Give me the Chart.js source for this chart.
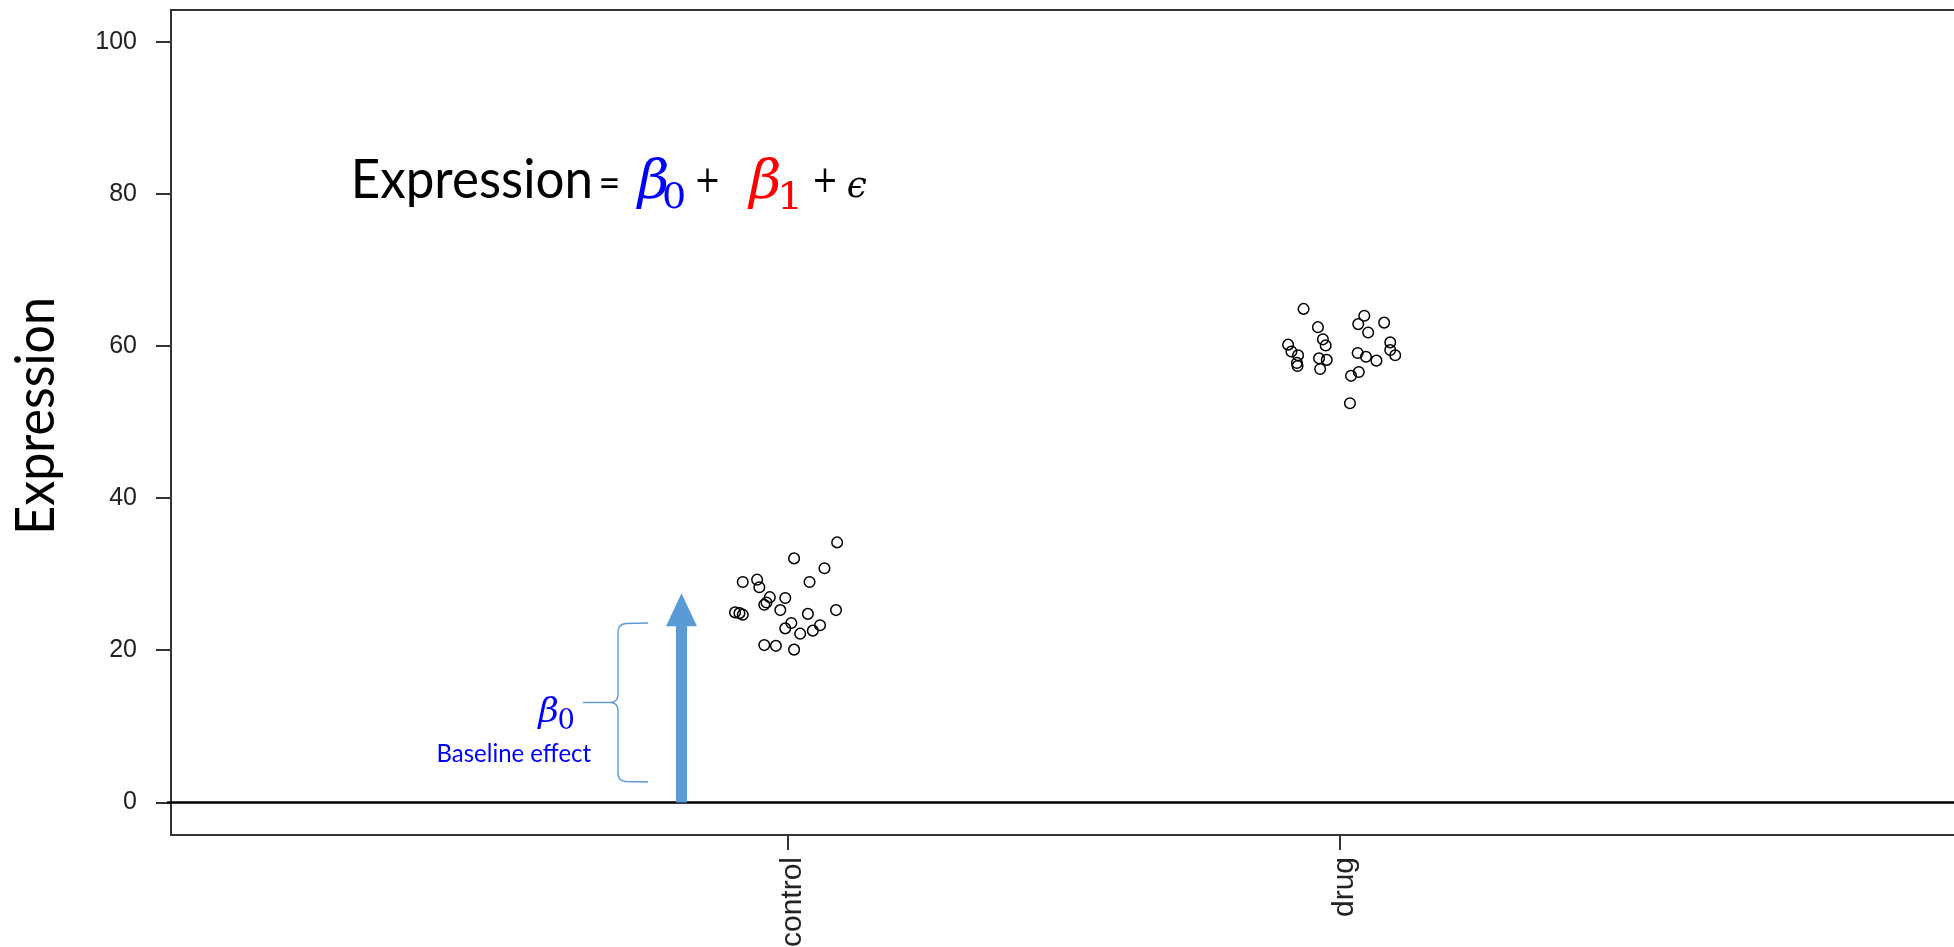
<!DOCTYPE html>
<html>
<head>
<meta charset="utf-8">
<title>Expression by group</title>
<script src="https://cdn.jsdelivr.net/npm/chart.js@4.4.1/dist/chart.umd.min.js"></script>
<style>
  html, body { margin: 0; padding: 0; background: #ffffff; overflow: hidden; }
  canvas { display: block; }
</style>
</head>
<body>
<canvas id="chart" width="1954" height="947"></canvas>
<script>
// Groups on the x axis (positions 1 and 2) and the y-axis ticks
const categories = ['control', 'drug'];
const yTicks = [0, 20, 40, 60, 80, 100];

// Jittered observations: x is the group position plus jitter, y is expression
const controlX = [1.089, 1.011, 1.066, 0.918, 0.944, 0.948, 1.039, 0.967, 0.995, 0.961, 0.957, 0.986, 1.087,
                  0.904, 0.912, 0.918, 1.036, 1.006, 0.995, 1.058, 1.045, 1.022, 0.957, 0.978, 1.011];
const controlY = [34.2, 32.1, 30.8, 29.0, 29.3, 28.3, 29.0, 27.0, 26.9, 26.3, 26.0, 25.3, 25.3,
                  25.0, 24.9, 24.7, 24.8, 23.6, 22.9, 23.3, 22.6, 22.2, 20.7, 20.6, 20.1];
const drugX = [1.934, 2.044, 2.033, 2.080, 1.960, 2.051, 1.969, 1.974, 1.906, 2.091, 1.912, 1.924, 2.032,
               2.091, 2.100, 2.047, 2.066, 1.962, 1.976, 1.922, 1.923, 1.964, 2.034, 2.020, 2.018];
const drugY = [64.9, 64.0, 62.9, 63.1, 62.5, 61.8, 60.9, 60.1, 60.2, 60.5, 59.3, 58.8, 59.1,
               59.5, 58.8, 58.6, 58.1, 58.4, 58.2, 57.8, 57.4, 57.0, 56.6, 56.1, 52.5];

// Baseline arrow: drawn at this x (axis units) from 0 up to the tip value
const baselineArrowX = 0.807;
const baselineArrowTip = 27.5;
// Brace span (expression units) beside the arrow
const braceTop = 23.6;
const braceBottom = 2.7;

const toPoints = (xs, ys) => xs.map((x, i) => ({ x: x, y: ys[i] }));

const AXIS_COLOR = '#333333';
const ARROW_BLUE = '#5B9BD5';

// Draws text so that its ink box fills the rectangle (x0,y0)-(x1,y1)
function drawInk(ctx, text, font, color, x0, y0, x1, y1) {
  ctx.save();
  ctx.font = font;
  ctx.textAlign = 'left';
  ctx.textBaseline = 'alphabetic';
  const m = ctx.measureText(text);
  const w = m.actualBoundingBoxLeft + m.actualBoundingBoxRight;
  const h = m.actualBoundingBoxAscent + m.actualBoundingBoxDescent;
  ctx.translate(x0, y0);
  ctx.scale((x1 - x0) / w, (y1 - y0) / h);
  ctx.fillStyle = color;
  ctx.fillText(text, m.actualBoundingBoxLeft, m.actualBoundingBoxAscent);
  ctx.restore();
}

// Same, for text running bottom-to-top; ink spans x0..x1 across and yBottom..yTop along
function drawInkUp(ctx, text, font, color, x0, x1, yBottom, yTop) {
  ctx.save();
  ctx.font = font;
  ctx.textAlign = 'left';
  ctx.textBaseline = 'alphabetic';
  const m = ctx.measureText(text);
  const w = m.actualBoundingBoxLeft + m.actualBoundingBoxRight;
  const h = m.actualBoundingBoxAscent + m.actualBoundingBoxDescent;
  ctx.translate(x0, yBottom);
  ctx.rotate(-Math.PI / 2);
  ctx.scale((yBottom - yTop) / w, (x1 - x0) / h);
  ctx.fillStyle = color;
  ctx.fillText(text, m.actualBoundingBoxLeft, m.actualBoundingBoxAscent);
  ctx.restore();
}

// Keep the plot box at fixed edges: no extra room reserved for edge labels
function fixScale(scale, size) {
  if (scale.isHorizontal()) scale.height = size; else scale.width = size;
  scale.paddingTop = 0;
  scale.paddingBottom = 0;
  scale.paddingLeft = 0;
  scale.paddingRight = 0;
}

const decorations = {
  id: 'decorations',
  beforeDatasetsDraw(chart) {
    const { ctx, chartArea, scales } = chart;
    const xs = scales.x, ys = scales.y;
    ctx.save();

    // top edge of the plot box
    ctx.strokeStyle = AXIS_COLOR;
    ctx.lineWidth = 2;
    ctx.beginPath();
    ctx.moveTo(chartArea.left - 1, chartArea.top);
    ctx.lineTo(chartArea.right, chartArea.top);
    ctx.stroke();

    // horizontal reference line at zero
    const y0 = ys.getPixelForValue(0);
    ctx.strokeStyle = '#000000';
    ctx.lineWidth = 2.6;
    ctx.beginPath();
    ctx.moveTo(chartArea.left - 4, y0);
    ctx.lineTo(chartArea.right, y0);
    ctx.stroke();

    // baseline arrow
    const ax = xs.getPixelForValue(baselineArrowX);
    const tip = ys.getPixelForValue(baselineArrowTip);
    const headLen = 33, headHalf = 15.5, shaftHalf = 5.5;
    ctx.fillStyle = ARROW_BLUE;
    ctx.beginPath();
    ctx.moveTo(ax - shaftHalf, y0);
    ctx.lineTo(ax - shaftHalf, tip + headLen);
    ctx.lineTo(ax - headHalf, tip + headLen);
    ctx.lineTo(ax, tip);
    ctx.lineTo(ax + headHalf, tip + headLen);
    ctx.lineTo(ax + shaftHalf, tip + headLen);
    ctx.lineTo(ax + shaftHalf, y0);
    ctx.closePath();
    ctx.fill();

    // curly brace left of the arrow
    const bt = ys.getPixelForValue(braceTop);
    const bb = ys.getPixelForValue(braceBottom);
    const bm = (bt + bb) / 2;
    const spine = ax - 63.5, ends = ax - 33.5, cusp = ax - 70, lead = ax - 98.5;
    ctx.strokeStyle = ARROW_BLUE;
    ctx.lineWidth = 1.4;
    ctx.beginPath();
    ctx.moveTo(ends, bt);
    ctx.lineTo(spine + 8, bt + 0.5);
    ctx.quadraticCurveTo(spine, bt + 1, spine, bt + 9);
    ctx.lineTo(spine, bm - 8);
    ctx.quadraticCurveTo(spine, bm - 1, cusp, bm);
    ctx.quadraticCurveTo(spine, bm + 1, spine, bm + 8);
    ctx.lineTo(spine, bb - 9);
    ctx.quadraticCurveTo(spine, bb - 1, spine + 8, bb - 0.5);
    ctx.lineTo(ends, bb);
    ctx.stroke();
    ctx.beginPath();
    ctx.moveTo(lead, bm);
    ctx.lineTo(cusp, bm);
    ctx.stroke();

    ctx.restore();
  },
  afterDraw(chart) {
    const ctx = chart.ctx;
    const sans = 'Lato, "Open Sans", sans-serif';
    const serif = '"DejaVu Serif", "Liberation Serif", serif';

    // y-axis title
    drawInkUp(ctx, 'Expression', '60px ' + sans, '#000000', 14, 63, 530.5, 300);

    // model equation
    drawInk(ctx, 'Expression', '60px ' + sans, '#000000', 355, 158, 590, 207);
    drawInk(ctx, '=', '60px ' + sans, '#000000', 601, 178, 618, 188);
    drawInk(ctx, '\u03B2', 'italic 60px ' + serif, '#0000FF', 636, 156, 668, 209);
    drawInk(ctx, '0', '40px ' + serif, '#0000FF', 664, 182, 684, 209);
    drawInk(ctx, '+', '60px ' + serif, '#000000', 697.5, 170, 717.5, 193);
    drawInk(ctx, '\u03B2', 'italic 60px ' + serif, '#FF0000', 747.5, 156, 780, 209);
    drawInk(ctx, '1', '40px ' + serif, '#FF0000', 781, 182, 797.5, 209);
    drawInk(ctx, '+', '60px ' + serif, '#000000', 815, 170, 835, 193);
    drawInk(ctx, '\u03F5', 'italic 60px ' + serif, '#000000', 848, 177.5, 866.5, 197.5);

    // brace label
    drawInk(ctx, '\u03B2', 'italic 40px ' + serif, '#0000FF', 536.5, 697.5, 558, 728.5);
    drawInk(ctx, '0', '30px ' + serif, '#0000FF', 558.5, 708.5, 574, 728.5);
    drawInk(ctx, 'Baseline effect', '24px ' + sans, '#0000FF', 438.5, 743.5, 591.5, 761.5);
  }
};

new Chart(document.getElementById('chart'), {
  type: 'scatter',
  data: {
    datasets: [
      { label: categories[0], data: toPoints(controlX, controlY) },
      { label: categories[1], data: toPoints(drugX, drugY) }
    ]
  },
  options: {
    responsive: false,
    devicePixelRatio: 1,
    animation: false,
    events: [],
    layout: { autoPadding: false, padding: { top: 10, left: 0, right: 0, bottom: 0 } },
    elements: {
      point: {
        pointStyle: 'circle',
        radius: 5.3,
        borderWidth: 1.5,
        borderColor: '#000000',
        backgroundColor: 'rgba(0,0,0,0)'
      }
    },
    plugins: {
      legend: { display: false },
      tooltip: { enabled: false },
      title: { display: false }
    },
    scales: {
      x: {
        type: 'linear',
        min: -0.1178,
        max: 3.1123,
        afterBuildTicks: (scale) => { scale.ticks = categories.map((c, i) => ({ value: i + 1 })); },
        afterFit: (scale) => fixScale(scale, 112),
        grid: { display: true, drawOnChartArea: false, drawTicks: true, tickLength: 15, color: AXIS_COLOR, lineWidth: 2 },
        border: { display: true, color: AXIS_COLOR, width: 2 },
        ticks: {
          autoSkip: false,
          minRotation: 90,
          maxRotation: 90,
          padding: 7,
          labelOffset: 5,
          color: '#222222',
          font: { family: '"Liberation Sans", Arial, sans-serif', size: 30 },
          callback: (v) => categories[Math.round(v) - 1]
        }
      },
      y: {
        type: 'linear',
        min: -4.27,
        max: 104.2,
        afterBuildTicks: (scale) => { scale.ticks = yTicks.map(v => ({ value: v })); },
        afterFit: (scale) => fixScale(scale, 171),
        grid: { display: true, drawOnChartArea: false, drawTicks: true, tickLength: 15, color: AXIS_COLOR, lineWidth: 2 },
        border: { display: true, color: AXIS_COLOR, width: 2 },
        ticks: {
          padding: 19,
          color: '#222222',
          font: { family: '"Liberation Sans", Arial, sans-serif', size: 25 },
          callback: (v) => String(v)
        }
      }
    }
  },
  plugins: [decorations]
});
</script>
</body>
</html>
